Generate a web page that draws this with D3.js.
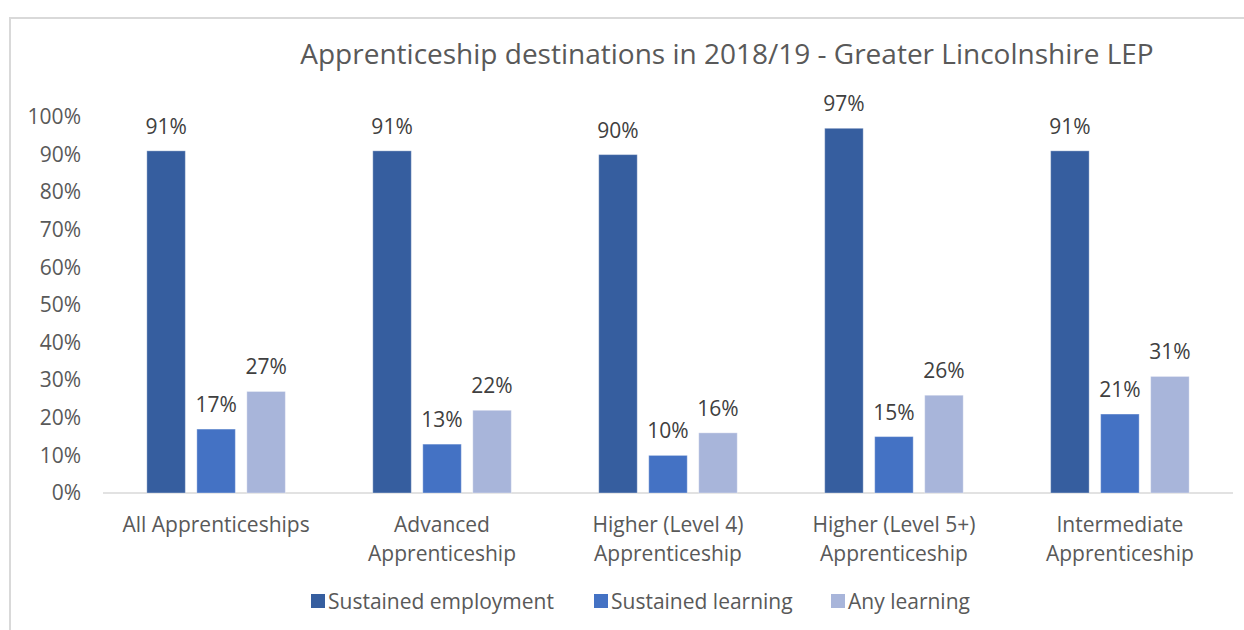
<!DOCTYPE html>
<html>
<head>
<meta charset="utf-8">
<script src="https://cdn.jsdelivr.net/npm/d3@7"></script>
<style>
  html, body { margin: 0; padding: 0; background: #fff; }
  svg { display: block; font-family: "Open Sans", "Noto Sans", sans-serif; }
</style>
</head>
<body>
<svg id="chart" width="1244" height="630"></svg>
<script>
// Apprenticeship destinations, Greater Lincolnshire LEP, 2018/19
const categories = [
  ["All Apprenticeships"],
  ["Advanced", "Apprenticeship"],
  ["Higher (Level 4)", "Apprenticeship"],
  ["Higher (Level 5+)", "Apprenticeship"],
  ["Intermediate", "Apprenticeship"]
];
const seriesNames = ["Sustained employment", "Sustained learning", "Any learning"];
const sustainedEmployment = [0.91, 0.91, 0.90, 0.97, 0.91];
const sustainedLearning   = [0.17, 0.13, 0.10, 0.15, 0.21];
const anyLearning         = [0.27, 0.22, 0.16, 0.26, 0.31];
const yTicks = [0, 0.1, 0.2, 0.3, 0.4, 0.5, 0.6, 0.7, 0.8, 0.9, 1.0];
const title = "Apprenticeship destinations in 2018/19 - Greater Lincolnshire LEP";

const seriesValues = [sustainedEmployment, sustainedLearning, anyLearning];
const colors = ["#365E9F", "#4472C4", "#A8B5DA"];
const pct = d3.format(".0%");

const svg = d3.select("#chart");

// chart frame
svg.append("rect")
  .attr("x", 10).attr("y", 18)
  .attr("width", 1250).attr("height", 640)
  .attr("fill", "none").attr("stroke", "#d9d9d9").attr("stroke-width", 2);

const plot = { left: 103, right: 1233, top: 117, bottom: 493 };

const x0 = d3.scaleBand()
  .domain(d3.range(categories.length))
  .range([plot.left, plot.right])
  .paddingInner(0.387).paddingOuter(0.194);

const x1 = d3.scaleBand()
  .domain(d3.range(seriesNames.length))
  .range([0, x0.bandwidth()])
  .paddingInner(0.23);

const y = d3.scaleLinear().domain([0, 1]).range([plot.bottom, plot.top]);

// title
svg.append("text")
  .attr("x", 727).attr("y", 64)
  .attr("text-anchor", "middle")
  .attr("font-size", 28)
  .attr("fill", "#595959")
  .text(title);

// y axis labels
const yAxis = d3.axisLeft(y).tickValues(yTicks).tickFormat(pct).tickSize(0).tickPadding(0);
const yg = svg.append("g").attr("transform", `translate(81,0)`).call(yAxis);
yg.select(".domain").remove();
yg.attr("font-family", null).attr("font-size", null);
yg.selectAll("text").attr("font-size", 21).attr("fill", "#595959");

// baseline
svg.append("line")
  .attr("x1", plot.left).attr("x2", plot.right)
  .attr("y1", y(0)).attr("y2", y(0))
  .attr("stroke", "#d9d9d9").attr("stroke-width", 1.5);

// bars
const groups = svg.append("g").selectAll("g")
  .data(categories.map((c, i) => i))
  .join("g")
  .attr("transform", i => `translate(${x0(i)},0)`);

const cells = i => seriesValues.map((vals, s) => ({ s, v: vals[i] }));

groups.selectAll("rect")
  .data(cells)
  .join("rect")
  .attr("x", d => x1(d.s))
  .attr("y", d => y(d.v))
  .attr("width", x1.bandwidth())
  .attr("height", d => y(0) - y(d.v))
  .attr("fill", d => colors[d.s])
  .attr("stroke", "#ffffff").attr("stroke-opacity", 0.35).attr("stroke-width", 1);

groups.selectAll("text.val")
  .data(cells)
  .join("text")
  .attr("class", "val")
  .attr("x", d => x1(d.s) + x1.bandwidth() / 2)
  .attr("y", d => y(d.v) - 17)
  .attr("text-anchor", "middle")
  .attr("font-size", 21)
  .attr("fill", "#404040")
  .text(d => pct(d.v));

// category labels
const cat = svg.append("g").selectAll("text")
  .data(categories)
  .join("text")
  .attr("x", (c, i) => x0(i) + x0.bandwidth() / 2)
  .attr("y", 532)
  .attr("text-anchor", "middle")
  .attr("font-size", 21)
  .attr("fill", "#595959");
cat.selectAll("tspan")
  .data(c => c)
  .join("tspan")
  .attr("x", function () { return this.parentNode.getAttribute("x"); })
  .attr("dy", (d, j) => j === 0 ? 0 : 29)
  .text(d => d);

// legend
const legendX = [311, 594, 831];
const lg = svg.append("g").selectAll("g")
  .data(seriesNames)
  .join("g")
  .attr("transform", (d, i) => `translate(${legendX[i]},594)`);
lg.append("rect").attr("width", 14).attr("height", 14).attr("fill", (d, i) => colors[i]);
lg.append("text")
  .attr("x", 17).attr("y", 15)
  .attr("font-size", 21)
  .attr("fill", "#595959")
  .text(d => d);
</script>
</body>
</html>
